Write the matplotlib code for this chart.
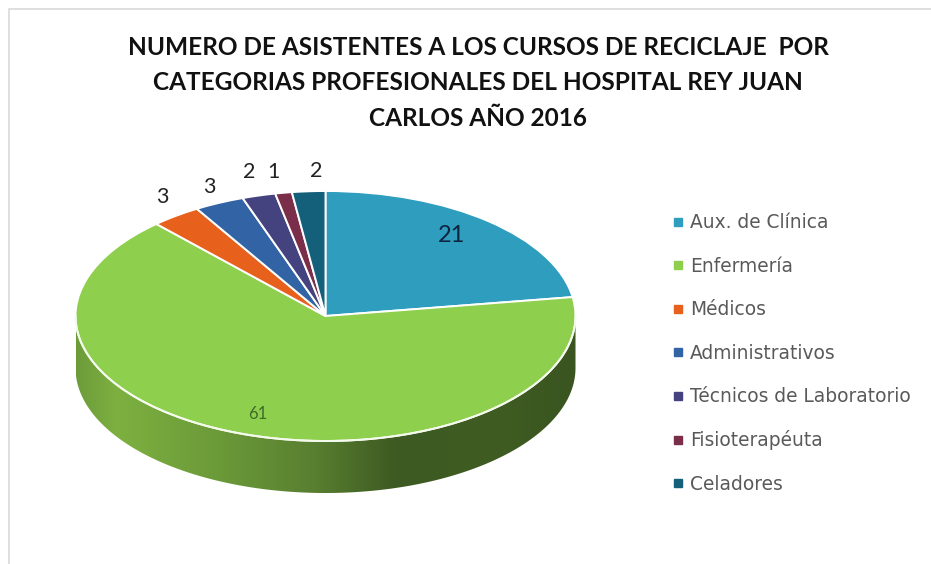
import numpy as np
import matplotlib
matplotlib.use("Agg")
import matplotlib.pyplot as plt
from matplotlib.colors import LinearSegmentedColormap
from matplotlib.lines import Line2D
from matplotlib.patches import Polygon, Rectangle

W, H = 931, 564

categories = ["Aux. de Clínica", "Enfermería", "Médicos", "Administrativos",
              "Técnicos de Laboratorio", "Fisioterapéuta", "Celadores"]
values = [21, 61, 3, 3, 2, 1, 2]
colors = ["#2E9DBE", "#8FCF4E", "#E8611C", "#3263A4", "#44437F", "#7B2E4A", "#14607A"]
title = ("NUMERO DE ASISTENTES A LOS CURSOS DE RECICLAJE  POR\n"
         "CATEGORIAS PROFESIONALES DEL HOSPITAL REY JUAN\n"
         "CARLOS AÑO 2016")

# pie geometry, in pixels of the picture
CX, CY = 325.5, 316.0
RX, RY = 250.0, 125.0
DEPTH = 52.0 / RY

# where the value labels sit, in pixels
label_px = [(452, 235), (258, 414), (162, 197), (209, 187), (249, 172), (273, 172), (316, 171)]
label_size = [17, 12, 15.5, 15.5, 15.5, 15.5, 15.5]
label_color = ["#0F2440", "#3E6B2A", "#222222", "#222222", "#222222", "#222222", "#222222"]


def to_xy(px, py):
    return (px - CX) / RX, (CY - py) / RY


fig = plt.figure(figsize=(W / 100, H / 100), dpi=100)
ax = fig.add_axes([0, 0, 1, 1])

# pale chart frame, only left and top show up
fig.add_artist(Rectangle((9 / W, -0.1), 1.2, 1 - 9 / H + 0.1, transform=fig.transFigure,
                         fill=False, ec="#D9D9D9", lw=1.2))

wedges, _ = ax.pie(values, colors=colors, startangle=90, counterclock=False,
                   wedgeprops=dict(edgecolor="white", linewidth=1.4, zorder=3))
ax.set_aspect("auto")

# side wall of the 3D pie: only the big green slice faces the viewer here
theta = np.linspace(np.pi, 2 * np.pi, 300)
top = np.column_stack([np.cos(theta), np.sin(theta)])
bottom = top - [0, DEPTH]
wall = Polygon(np.vstack([top, bottom[::-1]]), transform=ax.transData, fc="none", ec="none")
ax.add_patch(wall)
side_cmap = LinearSegmentedColormap.from_list(
    "side", [(0, "#6C9C3A"), (0.08, "#7DB040"), (0.30, "#6A9838"), (0.48, "#587E30"),
             (0.64, "#3D5A22"), (0.85, "#3F5C22"), (1, "#3A5520")])
img = ax.imshow(np.linspace(0, 1, 256).reshape(1, -1), cmap=side_cmap, aspect="auto",
                extent=(-1, 1, -1 - DEPTH, 0), zorder=1, interpolation="bilinear")
img.set_clip_path(wall)
ax.plot(top[:, 0], top[:, 1], color="#F4FAEC", lw=1.4, zorder=4)

ax.set_xlim(to_xy(0, 0)[0], to_xy(W, 0)[0])
ax.set_ylim(to_xy(0, H)[1], to_xy(0, 0)[1])
ax.set_aspect("auto")

for val, (px, py), size, col in zip(values, label_px, label_size, label_color):
    x, y = to_xy(px, py)
    ax.text(x, y, str(val), ha="center", va="center", fontsize=size, color=col,
            family="Lato", zorder=5)

fig.text(478 / W, 1 - 83 / H, title, ha="center", va="center", fontsize=17.6,
         family="Lato", weight="bold", color="#111111", linespacing=1.64)

handles = [Line2D([], [], ls="none", marker="s", ms=5.2, mfc=c, mec=c) for c in colors]
leg = ax.legend(handles, categories, loc="upper left", bbox_to_anchor=(672.5 / W, 1 - 213.5 / H),
                bbox_transform=fig.transFigure, frameon=False, labelspacing=1.31,
                handlelength=0.6, handletextpad=0.35, borderpad=0, borderaxespad=0,
                prop=dict(family="DejaVu Sans", size=13.4))
for t in leg.get_texts():
    t.set_color("#595959")

fig.savefig("out.png", dpi=100, facecolor="white")
